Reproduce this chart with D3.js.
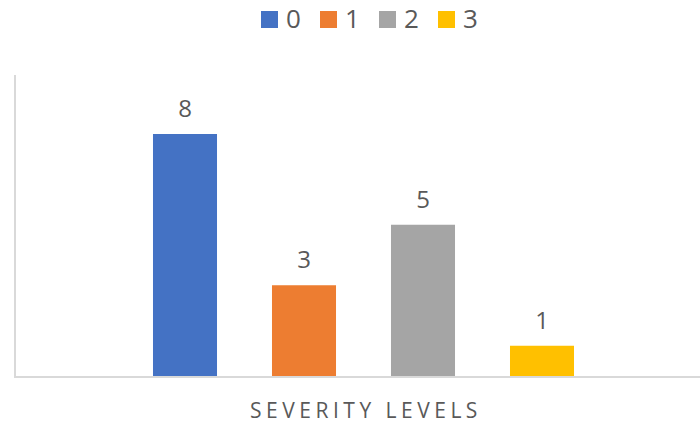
<!DOCTYPE html>
<html>
<head>
<meta charset="utf-8">
<script src="https://cdn.jsdelivr.net/npm/d3@7"></script>
<style>
  body { margin: 0; background: #fff; }
  text { font-family: "Open Sans", "Liberation Sans", sans-serif; fill: #595959; }
</style>
</head>
<body>
<div id="chart"></div>
<script>
// chart data
var levels = ["0", "1", "2", "3"];
var counts = [8, 3, 5, 1];
var colors = ["#4472C4", "#ED7D31", "#A5A5A5", "#FFC000"];
var axisTitle = "SEVERITY LEVELS";

var svgWidth = 700;
var svgHeight = 425;

var svg = d3.select("#chart")
  .append("svg")
  .attr("width", svgWidth)
  .attr("height", svgHeight);

// plot area
var plot = { left: 15, right: 700, top: 75, bottom: 376 };

var xScale = d3.scaleBand()
  .domain(levels)
  .range([125.5, 601.5])
  .paddingInner(0.462)
  .paddingOuter(0.231);

var yScale = d3.scaleLinear()
  .domain([0, 8])
  .range([plot.bottom, 134]);

// axis lines
svg.append("line")
  .attr("x1", plot.left).attr("x2", plot.left)
  .attr("y1", plot.top).attr("y2", plot.bottom)
  .attr("stroke", "#d9d9d9")
  .attr("stroke-width", 2);

// bars
svg.selectAll("rect.bar")
  .data(counts)
  .enter()
  .append("rect")
  .attr("class", "bar")
  .attr("x", (d, i) => xScale(levels[i]))
  .attr("y", d => yScale(d))
  .attr("width", xScale.bandwidth())
  .attr("height", d => yScale(0) - yScale(d))
  .attr("fill", (d, i) => colors[i]);

svg.append("line")
  .attr("x1", plot.left - 1).attr("x2", plot.right)
  .attr("y1", plot.bottom + 1).attr("y2", plot.bottom + 1)
  .attr("stroke", "#d9d9d9")
  .attr("stroke-width", 2);

// value labels
svg.selectAll("text.value")
  .data(counts)
  .enter()
  .append("text")
  .attr("class", "value")
  .attr("x", (d, i) => xScale(levels[i]) + xScale.bandwidth() / 2)
  .attr("y", d => yScale(d) - 17)
  .attr("text-anchor", "middle")
  .style("font-size", "24px")
  .text(d => d);

// legend
var legend = svg.append("g");
var legendX = [261, 320, 379, 438];
var items = legend.selectAll("g")
  .data(levels)
  .enter()
  .append("g")
  .attr("transform", (d, i) => `translate(${legendX[i]}, 11)`);

items.append("rect")
  .attr("width", 17)
  .attr("height", 17)
  .attr("fill", (d, i) => colors[i]);

items.append("text")
  .attr("x", 25)
  .attr("y", 17)
  .style("font-size", "26px")
  .text(d => d);

// x axis title
svg.append("text")
  .attr("x", 366)
  .attr("y", 418)
  .attr("text-anchor", "middle")
  .style("font-size", "21px")
  .style("letter-spacing", "4.5px")
  .text(axisTitle);
</script>
</body>
</html>
